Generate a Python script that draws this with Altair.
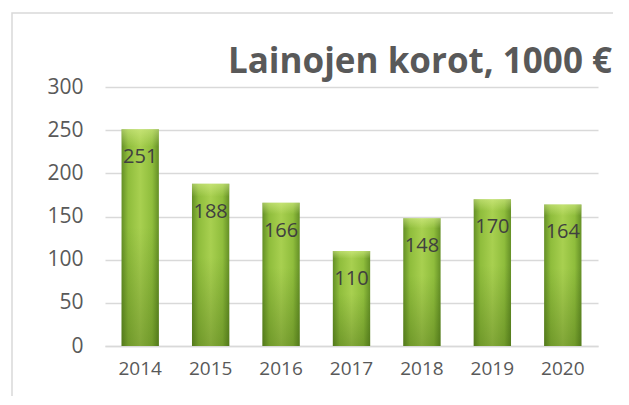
import altair as alt
import pandas as pd

years = ["2014", "2015", "2016", "2017", "2018", "2019", "2020"]
values = [251, 188, 166, 110, 148, 170, 164]
title_text = ["Lainojen korot, 1000 €"]

df = pd.DataFrame({"year": years, "value": values})

FONT = "Open Sans"
W, H = 493, 259

x_enc = alt.X("year:N", sort=years, title=None,
              scale=alt.Scale(paddingInner=0.47, paddingOuter=0.235),
              axis=alt.Axis(labelAngle=0, labelFont=FONT, labelFontSize=19,
                            labelColor="#595959", labelPadding=13, ticks=False,
                            domainColor="#d9d9d9", domainWidth=1.5))
y_enc = alt.Y("value:Q", title=None,
              scale=alt.Scale(domain=[0, 300]),
              axis=alt.Axis(values=[0, 50, 100, 150, 200, 250, 300], labelFont=FONT,
                            labelFontSize=21, labelColor="#595959", labelPadding=22,
                            ticks=False, domain=False, gridColor="#d9d9d9", gridWidth=1.5))

grad_h = alt.Gradient(gradient="linear", x1=0, x2=1, y1=0, y2=0, stops=[
    alt.GradientStop(color="#648f26", offset=0),
    alt.GradientStop(color="#8fbd3c", offset=0.18),
    alt.GradientStop(color="#a8d050", offset=0.5),
    alt.GradientStop(color="#8fbd3c", offset=0.82),
    alt.GradientStop(color="#648f26", offset=1),
])
grad_v = alt.Gradient(gradient="linear", x1=0, x2=0, y1=0, y2=1, stops=[
    alt.GradientStop(color="rgba(225,245,150,0.5)", offset=0),
    alt.GradientStop(color="rgba(225,245,150,0.0)", offset=0.08),
    alt.GradientStop(color="rgba(40,70,0,0.0)", offset=0.45),
    alt.GradientStop(color="rgba(40,70,0,0.3)", offset=1),
])

base = alt.Chart(df)

border = alt.Chart(pd.DataFrame({"a": [0]})).mark_rect(
    fill=None, stroke="#d9d9d9", strokeWidth=1.5
).encode(x=alt.value(-93), x2=alt.value(516), y=alt.value(-74), y2=alt.value(330))

title = alt.Chart(pd.DataFrame({"t": title_text})).mark_text(
    font=FONT, fontSize=35, fontWeight="bold", color="#595959",
    align="right", baseline="alphabetic"
).encode(x=alt.value(507), y=alt.value(-14), text="t:N")

bars = base.mark_bar(color=grad_h).encode(x=x_enc, y=y_enc)
shade = base.mark_bar(color=grad_v).encode(x=alt.X("year:N", sort=years), y="value:Q")
labels = base.mark_text(font=FONT, fontSize=20, color="#404040", baseline="middle", dy=28).encode(
    x=alt.X("year:N", sort=years), y="value:Q", text="value:Q")

chart = alt.layer(border, bars, shade, labels, title).properties(
    width=W, height=H,
    padding={"left": 97, "top": 79, "right": 15, "bottom": 50},
    autosize=alt.AutoSizeParams(type="none"),
).configure_view(stroke=None)

chart.save("out.html", embed_options={"renderer": "svg", "actions": False})
